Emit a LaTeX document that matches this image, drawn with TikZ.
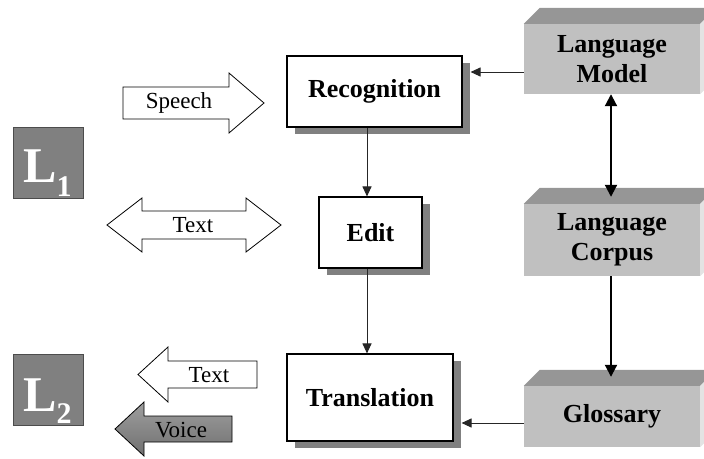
\documentclass[tikz,border=0pt]{standalone}
\usepackage{fontspec}
\setmainfont{Liberation Serif}
\usetikzlibrary{arrows.meta,shadows}
\definecolor{frontgray}{HTML}{C0C0C0}
\definecolor{topgray}{HTML}{969696}
\definecolor{sidegray}{HTML}{E3E3E3}
\definecolor{shadowgray}{HTML}{808080}
\definecolor{lgray}{HTML}{808080}
\definecolor{voicedark}{HTML}{707070}
\definecolor{voicelight}{HTML}{9E9E9E}
\begin{document}
\begin{tikzpicture}[x=1pt,y=-1pt,
  procbox/.style={draw=black, line width=1.1pt, fill=white, inner sep=0pt,
    font=\fontsize{26}{30}\selectfont\bfseries,
    drop shadow={shadow xshift=8pt, shadow yshift=-7pt, fill=shadowgray, opacity=1}},
  cubefront/.style={fill=frontgray, inner sep=0pt, minimum width=176pt, align=center,
    font=\fontsize{26}{30}\selectfont\bfseries},
  lbox/.style={fill=lgray, draw=black!70, line width=0.8pt, minimum width=70pt, minimum height=71pt, inner sep=0pt},
  ltext/.style={text=white, inner sep=0pt, font=\fontsize{50}{50}\selectfont\bfseries},
  blockarrow/.style={draw=black, line width=0.8pt, fill=white, line join=miter},
  arrowtext/.style={inner sep=0pt, font=\fontsize{23}{23}\selectfont},
  thinarrow/.style={draw=black!85, line width=1pt, -{Triangle[length=10pt,width=9pt]}},
  thickarrow/.style={draw=black, line width=2pt, -{Triangle[length=12pt,width=12pt]}},
  dblarrow/.style={draw=black, line width=2pt, {Triangle[length=12pt,width=12pt]}-{Triangle[length=12pt,width=12pt]}}
]
\useasboundingbox (0,0) rectangle (704,458);
\clip (0,0) rectangle (704,458);

% process boxes
\node[procbox, minimum width=175pt, minimum height=71pt] (rec) at (374.5,91.5) {Recognition};
\node[procbox, minimum width=103pt, minimum height=71pt] (edit) at (370.5,232.5) {Edit};
\node[procbox, minimum width=166pt, minimum height=87pt] (trans) at (370,397.5) {Translation};

% 3D boxes
\node[cubefront, minimum height=70pt] (lm) at (612,59) {Language\\Model};
\node[cubefront, minimum height=72pt] (corpus) at (612,240) {Language\\Corpus};
\node[cubefront, minimum height=61pt] (glos) at (612,416.5) {Glossary};
\foreach \n in {lm,corpus,glos}{
  \fill[topgray] (\n.north west) -- ++(16,-16) -- ([xshift=16pt,yshift=16pt]\n.north east) -- (\n.north east) -- cycle;
  \fill[sidegray] (\n.north east) -- ++(16,-16) -- ([xshift=16pt,yshift=16pt]\n.south east) -- (\n.south east) -- cycle;
}

% L boxes
\node[lbox] (l1) at (48,162.5) {};
\node[ltext, anchor=base west] (l1t) at (23,182) {L\raisebox{-14pt}{\fontsize{30}{30}\selectfont\bfseries 1}};
\node[lbox] (l2) at (48,390) {};
\node[ltext, anchor=base west] (l2t) at (23,411) {L\raisebox{-12pt}{\fontsize{30}{30}\selectfont\bfseries 2}};

% block arrows
\draw[blockarrow] (123,87) -- (229,87) -- (229,73) -- (264,103) -- (229,133) -- (229,119) -- (123,119) -- cycle;
\node[arrowtext] (speech) at (179,103) {Speech};
\draw[blockarrow] (107,225) -- (142,198) -- (142,211) -- (246,211) -- (246,198) -- (281,225) -- (246,252) -- (246,239) -- (142,239) -- (142,252) -- cycle;
\node[arrowtext] (text1) at (193,225) {Text};
\draw[blockarrow] (138,374.5) -- (168,347) -- (168,361) -- (257,361) -- (257,388) -- (168,388) -- (168,402) -- cycle;
\node[arrowtext] (text2) at (209,375) {Text};
\draw[blockarrow, top color=voicelight, bottom color=voicedark] (115,429) -- (144,402) -- (144,416) -- (232,416) -- (232,442) -- (144,442) -- (144,456) -- cycle;
\node[arrowtext] (voice) at (181,430) {Voice};

% connectors
\path (rec.east) ++(8,0) coordinate (recsh);
\path (trans.east) ++(8,0) coordinate (transsh);
\draw[thinarrow] ([yshift=-13pt]lm.west) -- ([yshift=-13pt]lm.west -| recsh);
\draw[thinarrow] ([xshift=-7.5pt]rec.south) -- ([xshift=-3.5pt]edit.north);
\draw[thinarrow] ([xshift=-3.5pt]edit.south) -- ([xshift=-3.5pt]edit.south |- trans.north);
\draw[thinarrow] ([yshift=-6.5pt]glos.west) -- ([yshift=-6.5pt]glos.west -| transsh);
\draw[dblarrow] ([xshift=-1pt]lm.south) -- ([xshift=-1pt,yshift=7pt]corpus.north);
\draw[thickarrow] ([xshift=-1pt]corpus.south) -- ([xshift=-1pt,yshift=9pt]glos.north);
\end{tikzpicture}
\end{document}
